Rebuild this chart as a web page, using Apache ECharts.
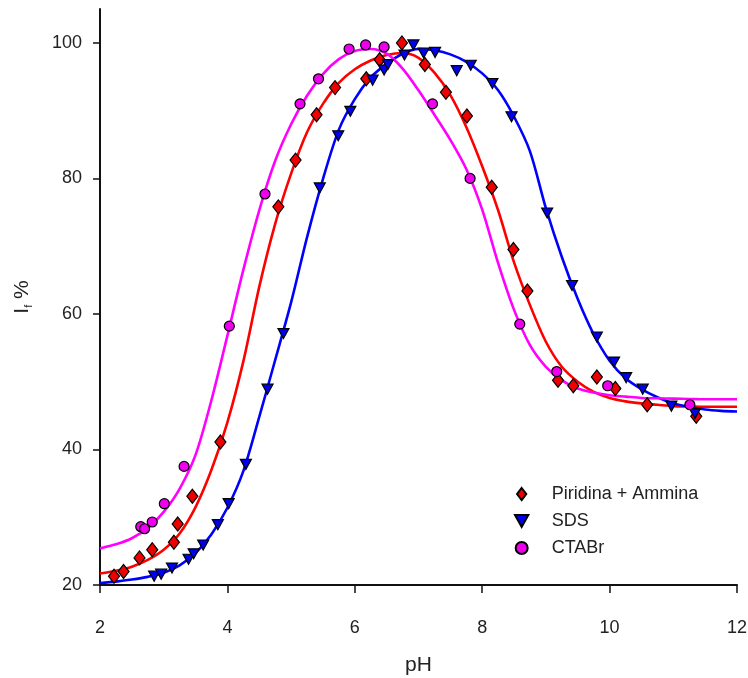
<!DOCTYPE html>
<html>
<head>
<meta charset="utf-8">
<script src="https://cdn.jsdelivr.net/npm/echarts@6/dist/echarts.min.js"></script>
<style>
html,body{margin:0;padding:0;background:#fff;}
#chart{width:748px;height:678px;}
</style>
</head>
<body>
<div id="chart"></div>
<script>
// ---- Data ----
const xTicks = [2, 4, 6, 8, 10, 12];
const yTicks = [20, 40, 60, 80, 100];

// Piridina + Ammina (red diamonds)
const pirX = [2.22, 2.37, 2.62, 2.82, 3.16, 3.22, 3.45, 3.89, 4.80, 5.07, 5.40, 5.69, 6.18, 6.39, 6.74, 7.10, 7.43, 7.76, 8.15, 8.49, 8.71, 9.19, 9.43, 9.80, 10.09, 10.59, 11.36];
const pirY = [21.3, 22.0, 24.0, 25.2, 26.3, 29.0, 33.1, 41.1, 75.8, 82.7, 89.4, 93.4, 94.7, 97.5, 100.0, 96.8, 92.7, 89.2, 78.7, 69.5, 63.4, 50.2, 49.4, 50.7, 49.0, 46.6, 44.9];

// SDS (blue down-triangles)
const sdsX = [2.85, 2.96, 3.13, 3.39, 3.47, 3.62, 3.85, 4.02, 4.29, 4.63, 4.88, 5.45, 5.74, 5.93, 6.28, 6.46, 6.52, 6.78, 6.92, 7.08, 7.26, 7.60, 7.82, 8.16, 8.46, 9.02, 9.41, 9.80, 10.07, 10.26, 10.52, 10.97, 11.34];
const sdsY = [21.3, 21.6, 22.5, 23.8, 24.6, 25.9, 28.9, 32.0, 37.8, 48.9, 57.1, 78.6, 86.3, 89.9, 94.5, 96.0, 96.8, 98.2, 99.7, 98.5, 98.6, 95.9, 96.7, 94.0, 89.1, 74.9, 64.2, 56.6, 52.9, 50.6, 48.9, 46.4, 45.3];

// CTABr (magenta circles)
const ctaX = [2.64, 2.70, 2.82, 3.01, 3.32, 4.03, 4.59, 5.14, 5.43, 5.91, 6.17, 6.46, 7.22, 7.81, 8.59, 9.17, 9.97, 11.26];
const ctaY = [28.6, 28.3, 29.3, 32.0, 37.5, 58.2, 77.7, 91.0, 94.7, 99.1, 99.7, 99.4, 91.0, 80.0, 58.5, 51.5, 49.4, 46.6];

// Fitted curves at pH 2.00, 2.25, ... 12.00
const fitX = [2, 2.25, 2.5, 2.75, 3, 3.25, 3.5, 3.75, 4, 4.25, 4.5, 4.75, 5, 5.25, 5.5, 5.75, 6, 6.25, 6.5, 6.75, 7, 7.25, 7.5, 7.75, 8, 8.25, 8.5, 8.75, 9, 9.25, 9.5, 9.75, 10, 10.25, 10.5, 10.75, 11, 11.25, 11.5, 11.75, 12];
const pirFitY = [21.7, 22.1, 22.7, 23.7, 25.2, 27.6, 31.5, 37.0, 44.0, 53.0, 64.0, 73.3, 80.7, 86.8, 91.0, 94.1, 96.1, 97.4, 98.2, 98.5, 97.8, 95.6, 92.3, 87.6, 81.8, 75.3, 67.6, 61.3, 55.9, 52.2, 50.0, 48.5, 47.6, 47.1, 46.8, 46.6, 46.4, 46.35, 46.3, 46.3, 46.3];
const sdsFitY = [20.3, 20.5, 20.8, 21.2, 21.8, 22.9, 24.7, 27.5, 31.4, 36.8, 44.8, 53.2, 61.7, 71.3, 79.9, 87.2, 91.7, 94.9, 96.9, 98.4, 99.1, 98.9, 98.3, 97.2, 95.5, 93.0, 89.1, 84.0, 75.6, 68.4, 62.2, 57.0, 53.1, 50.5, 48.9, 47.7, 46.8, 46.3, 45.9, 45.7, 45.6];
const ctaFitY = [25.4, 26.0, 26.9, 28.4, 30.8, 34.2, 39.2, 47.3, 56.8, 66.5, 75.3, 82.6, 88.0, 92.2, 95.4, 97.6, 98.8, 99.1, 98.4, 96.2, 93.0, 89.4, 85.7, 81.4, 75.4, 67.5, 60.6, 55.4, 52.2, 50.2, 49.0, 48.4, 48.0, 47.8, 47.6, 47.55, 47.5, 47.45, 47.4, 47.4, 47.4];

const names = ['Piridina + Ammina', 'SDS', 'CTABr'];

const zip = (xs, ys) => xs.map((x, i) => [x, ys[i]]);
const triDown = 'path://M0,0 L10,0 L5,9 Z';
const diamond = 'path://M5,0 L10,6.5 L5,13 L0,6.5 Z';

const chart = echarts.init(document.getElementById('chart'), null, {renderer: 'canvas'});
const FONT = 'Liberation Sans, Arial, sans-serif';

function fitLine(name, ys, color) {
  return {
    name: name, type: 'line', data: zip(fitX, ys), smooth: 0.3,
    showSymbol: false, symbol: 'none', silent: true, z: 2,
    lineStyle: {color: color, width: 2.6}
  };
}
function pts(name, xs, ys, symbol, size, color) {
  return {
    name: name, type: 'scatter', data: zip(xs, ys), symbol: symbol, symbolSize: size, z: 5,
    itemStyle: {color: color, borderColor: '#000', borderWidth: 1.2, opacity: 1}
  };
}

chart.setOption({
  animation: false,
  backgroundColor: '#fff',
  grid: {left: 100, right: 11, top: 9, bottom: 93, containLabel: false, outerBoundsMode: 'none'},
  xAxis: {
    type: 'value', min: 2, max: 12, interval: 2,
    name: 'pH', nameLocation: 'middle', nameGap: 70,
    nameTextStyle: {fontFamily: FONT, fontSize: 21, color: '#222'},
    axisLine: {show: true, onZero: false, lineStyle: {color: '#111', width: 2}},
    axisTick: {show: true, inside: false, length: 8, lineStyle: {color: '#111', width: 1.5}},
    axisLabel: {fontFamily: FONT, fontSize: 18, color: '#222', margin: 34,
      customValues: xTicks},
    splitLine: {show: false}
  },
  yAxis: {
    type: 'value', min: 20, max: 105,
    name: 'I{sub|f} %', nameLocation: 'middle', nameGap: 66, nameRotate: 90,
    nameTextStyle: {fontFamily: FONT, fontSize: 21, color: '#222',
      rich: {sub: {fontFamily: FONT, fontSize: 11, color: '#222', verticalAlign: 'bottom', padding: [12, 0, 0, 0]}}},
    axisLine: {show: true, onZero: false, lineStyle: {color: '#111', width: 2}},
    axisTick: {show: true, inside: false, length: 7, lineStyle: {color: '#111', width: 1.5},
      customValues: yTicks},
    axisLabel: {fontFamily: FONT, fontSize: 18, color: '#222', margin: 18,
      customValues: yTicks},
    splitLine: {show: false}
  },
  legend: {
    orient: 'vertical', left: 509, top: 480, itemWidth: 50, itemHeight: 12, itemGap: 9,
    data: [
      {name: names[0], icon: diamond},
      {name: names[1], icon: triDown},
      {name: names[2], icon: 'circle'}
    ],
    textStyle: {fontFamily: FONT, fontSize: 18, color: '#222'},
    selectedMode: false
  },
  series: [
    fitLine('fit-pir', pirFitY, '#ff0000'),
    fitLine('fit-sds', sdsFitY, '#0000ff'),
    fitLine('fit-cta', ctaFitY, '#ff00ff'),
    pts(names[0], pirX, pirY, diamond, [11, 14], '#ee0000'),
    pts(names[1], sdsX, sdsY, triDown, [11, 10], '#0000ee'),
    pts(names[2], ctaX, ctaY, 'circle', 10, '#ee00ee')
  ]
});
</script>
</body>
</html>
